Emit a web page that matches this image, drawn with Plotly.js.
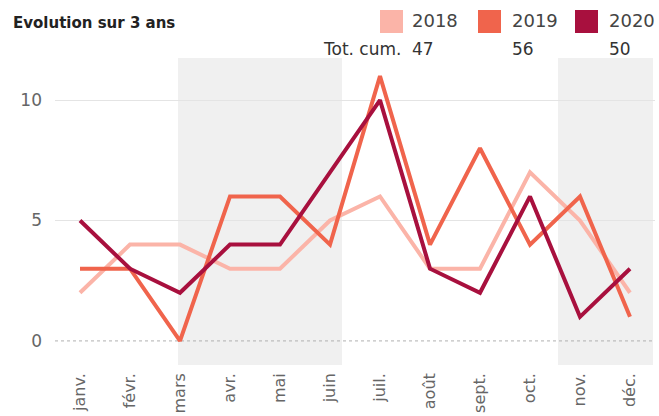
<!DOCTYPE html>
<html><head><meta charset="utf-8">
<script src="https://cdn.plot.ly/plotly-3.0.1.min.js"></script>
<style>html,body{margin:0;padding:0;background:#fff}#c{width:659px;height:416px}</style>
</head><body><div id="c"></div>
<script>
const months = ["janv.","févr.","mars","avr.","mai","juin","juil.","août","sept.","oct.","nov.","déc."];
const years = ["2018","2019","2020"];
const v2018 = [2,4,4,3,3,5,6,3,3,7,5,2];
const v2019 = [3,3,0,6,6,4,11,4,8,4,6,1];
const v2020 = [5,3,2,4,4,7,10,3,2,6,1,3];
const totals = ["47","56","50"];
const colors = ["#fbb4a8","#f0644c","#a8103e"];
const series = [v2018, v2019, v2020];

const font = "'DejaVu Sans', sans-serif";
const traces = series.map((s,i)=>({
  x: months.map((m,j)=>j), y: s, type:"scatter", mode:"lines",
  line:{color:colors[i], width:4}, name:years[i], hoverinfo:"skip"
}));

const px = v => (v-55)/600;
const py = v => (365-v)/307;
const shapes = [
  {type:"rect", xref:"x", yref:"paper", x0:1.96, x1:5.24, y0:0, y1:1, fillcolor:"#f0f0f0", line:{width:0}, layer:"below"},
  {type:"rect", xref:"x", yref:"paper", x0:9.56, x1:11.46, y0:0, y1:1, fillcolor:"#f0f0f0", line:{width:0}, layer:"below"},
  {type:"line", xref:"paper", yref:"y", x0:0, x1:1, y0:0, y1:0, line:{color:"#b0b0b0", width:1, dash:"dot"}, layer:"between"}
];
const sqX = [380, 478, 575];
const txX = [412, 512, 609];
const annotations = [
  {text:"Evolution sur 3 ans", xref:"paper", yref:"paper", x:px(11), y:py(23), xanchor:"left", yanchor:"middle", showarrow:false, font:{family:font, size:15, color:"#222", weight:"bold"}},
  {text:"Tot. cum.", xref:"paper", yref:"paper", x:px(403), y:py(49), xanchor:"right", yanchor:"middle", showarrow:false, font:{family:font, size:17, color:"#333"}}
];
years.forEach((y,i)=>{
  shapes.push({type:"rect", xref:"paper", yref:"paper", x0:px(sqX[i]), x1:px(sqX[i]+23), y0:py(33), y1:py(10), fillcolor:colors[i], line:{width:0}});
  annotations.push({text:y, xref:"paper", yref:"paper", x:px(txX[i]-2), y:py(21), xanchor:"left", yanchor:"middle", showarrow:false, font:{family:font, size:18, color:"#444"}});
  annotations.push({text:totals[i], xref:"paper", yref:"paper", x:px(txX[i]-2), y:py(49), xanchor:"left", yanchor:"middle", showarrow:false, font:{family:font, size:17, color:"#333"}});
});

const layout = {
  width:659, height:416,
  margin:{l:55, r:4, t:58, b:51},
  paper_bgcolor:"#fff", plot_bgcolor:"#fff",
  showlegend:false,
  font:{family:font, color:"#666"},
  xaxis:{range:[-0.5,11.5], tickvals:months.map((m,j)=>j), ticktext:months, tickangle:-90,
    showgrid:false, zeroline:false, showline:false, ticks:"", ticklabelstandoff:4,
    tickfont:{family:font, size:16, color:"#666"}, fixedrange:true},
  yaxis:{range:[-1,11.75], tickvals:[0,5,10], showgrid:false, zeroline:false, showline:false,
    ticks:"", ticklabelstandoff:12, tickfont:{family:font, size:17, color:"#666"},
    minor:{tickvals:[5,10], showgrid:true, gridcolor:"#e4e4e4", gridwidth:1}},
  shapes:shapes, annotations:annotations
};
Plotly.newPlot("c", traces, layout, {staticPlot:true, displayModeBar:false});
</script></body></html>
